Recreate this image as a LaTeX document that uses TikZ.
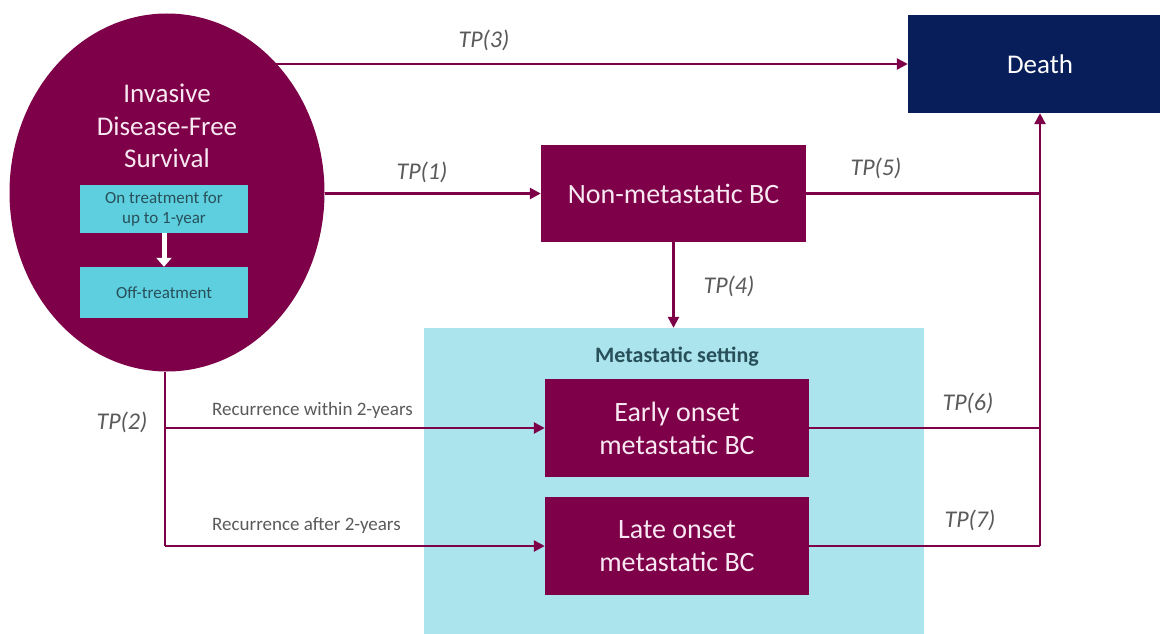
\documentclass[tikz,border=0pt]{standalone}
\usepackage{fontspec}
\setmainfont{Carlito}
\usetikzlibrary{arrows.meta,shapes.geometric,backgrounds}
\definecolor{maroon}{RGB}{125,0,72}
\definecolor{navy}{RGB}{8,30,90}
\definecolor{cyanbg}{RGB}{171,228,236}
\definecolor{cyanbox}{RGB}{94,207,222}
\definecolor{lblgray}{RGB}{90,90,90}
\definecolor{pinkw}{RGB}{248,232,242}
\definecolor{tealtxt}{RGB}{40,80,90}
\begin{document}
\begin{tikzpicture}[x=1pt,y=-1pt,
  statebox/.style={rectangle, fill=maroon, text=pinkw, inner sep=0pt, align=center,
    font=\fontsize{28}{33}\selectfont},
  subbox/.style={rectangle, fill=cyanbox, text=tealtxt, inner sep=0pt, align=center,
    minimum width=168pt, font=\fontsize{17}{20}\selectfont},
  conn/.style={draw=maroon, line width=2.5pt},
  arr/.style={conn, -{Triangle[length=11pt,width=11pt]}},
  tplabel/.style={text=lblgray, font=\fontsize{24}{28}\selectfont\itshape, inner sep=0pt},
  reclabel/.style={text=lblgray, font=\fontsize{19}{22}\selectfont, inner sep=0pt}]
\useasboundingbox (0,0) rectangle (1160,634);

% metastatic setting background
\node[rectangle, fill=cyanbg, minimum width=500pt, minimum height=306pt, inner sep=0pt] (meta) at (674,481) {};
\node[text=tealtxt, font=\fontsize{22}{26}\selectfont\bfseries, inner sep=0pt] (metatitle) at (677,357) {Metastatic setting};

% IDFS ellipse
\node[ellipse, fill=maroon, minimum width=315pt, minimum height=358pt, inner sep=0pt] (ids) at (167,192.5) {};
\node[text=pinkw, align=center, font=\fontsize{27}{32.5}\selectfont, inner sep=0pt] (idstitle) at (167,126) {Invasive\\Disease-Free\\Survival};
\node[subbox, minimum height=48pt] (ontr) at (164,209) {On treatment for\\up to 1-year};
\node[subbox, minimum height=51pt] (offtr) at (164,292.5) {Off-treatment};
\draw[white, line width=5pt, -{Triangle[length=9pt,width=15pt]}] (ontr.south) -- (offtr.north);

% states
\node[rectangle, fill=navy, text=white, inner sep=0pt, minimum width=252pt, minimum height=98pt,
  font=\fontsize{27}{33}\selectfont] (death) at (1034,64) {\hspace{12pt}Death};
\node[statebox, minimum width=265pt, minimum height=97pt] (nonmeta) at (673.5,193.5) {Non-metastatic BC};
\node[statebox, minimum width=264pt, minimum height=98pt] (early) at (677,428) {Early onset\\metastatic BC};
\node[statebox, minimum width=264pt, minimum height=98pt] (late) at (677,546) {Late onset\\metastatic BC};

\coordinate (dj) at ([xshift=6pt]death.south);

% connectors
\begin{scope}[on background layer]
\fill[white] (0,0) rectangle (1160,634);
\draw[arr] (ids.center |- death.west) -- (death.west);
\end{scope}
\draw[arr] (ids.east |- nonmeta.west) -- (nonmeta.west);
\draw[arr] (nonmeta.south) -- (meta.north -| nonmeta.south);
\draw[conn] (nonmeta.east) -- (nonmeta.east -| dj);
\draw[conn] (early.east) -- (early.east -| dj);
\draw[conn] (late.east) -- (late.east -| dj);
\draw[arr] (late.east -| dj) -- (dj);
\draw[conn] ([xshift=-2pt]ids.south) -- ([xshift=-2pt]ids.south |- late.west);
\draw[arr] ([xshift=-2pt]ids.south |- early.west) -- (early.west);
\draw[arr] ([xshift=-2pt]ids.south |- late.west) -- (late.west);

% labels
\node[tplabel] (tp3) at (484,40) {TP(3)};
\node[tplabel] (tp1) at (422,172) {TP(1)};
\node[tplabel] (tp5) at (876,168) {TP(5)};
\node[tplabel] (tp4) at (729,286) {TP(4)};
\node[tplabel] (tp2) at (122,422) {TP(2)};
\node[tplabel] (tp6) at (968,403) {TP(6)};
\node[tplabel] (tp7) at (970,520) {TP(7)};
\node[reclabel, anchor=west] (rec1) at (212,410) {Recurrence within 2-years};
\node[reclabel, anchor=west] (rec2) at (212,526) {Recurrence after 2-years};
\end{tikzpicture}
\end{document}
